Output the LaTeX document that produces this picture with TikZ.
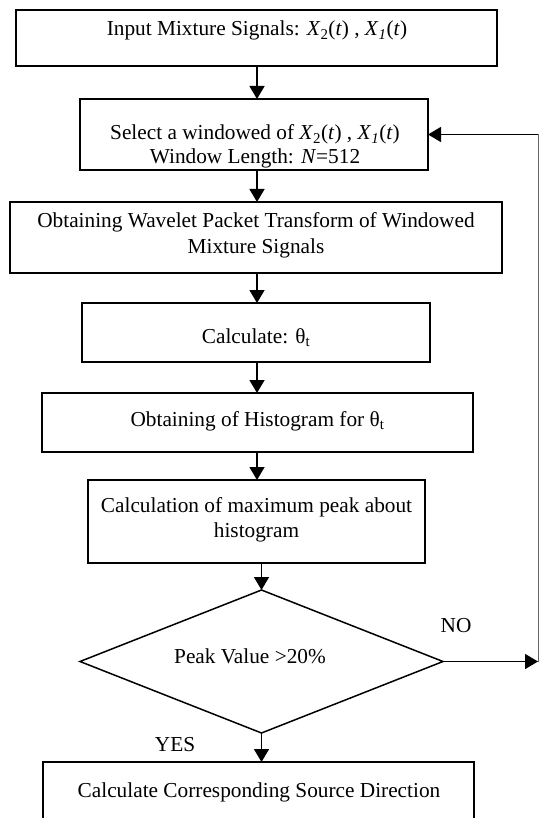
\documentclass[tikz,border=0pt]{standalone}
\usepackage{fontspec}
\setmainfont{Liberation Serif}
\usetikzlibrary{arrows.meta,shapes.geometric}
\tikzset{
  box/.style={draw, line width=1.5pt, inner sep=0pt, outer sep=0pt},
  dec/.style={draw, diamond, line width=1.5pt, inner sep=0pt, outer sep=0pt},
  lbl/.style={anchor=base, inner sep=0pt, font=\fontsize{21.3pt}{25pt}\selectfont},
  arr/.style={line width=1.5pt, -{Triangle[length=13pt,width=15pt]}},
  ln/.style={line width=1.5pt}
}
\begin{document}
\begin{tikzpicture}[x=1pt,y=-1pt]
\useasboundingbox (0,0) rectangle (538,818);
% boxes
\node[box, minimum width=481pt, minimum height=56pt] (b1) at (256.5,38) {};
\node[box, minimum width=348pt, minimum height=71pt] (b2) at (254,134.5) {};
\node[box, minimum width=492pt, minimum height=71pt] (b3) at (256,237.5) {};
\node[box, minimum width=348pt, minimum height=59pt] (b4) at (256,332.5) {};
\node[box, minimum width=431pt, minimum height=59pt] (b5) at (257.5,422.5) {};
\node[box, minimum width=337pt, minimum height=83pt] (b6) at (256.5,521.5) {};
\node[dec, minimum width=363pt, minimum height=143pt] (dia) at (261.5,661.5) {};
\node[box, minimum width=431pt, minimum height=68pt] (b7) at (258.5,796) {};
% texts
\node[lbl] (t1) at (257,36) {Input Mixture Signals: \textit{X}\textsubscript{2}(\textit{t}) , \textit{X}\textsubscript{\textit{1}}(\textit{t})};
\node[lbl] (t2a) at (255,140) {Select a windowed of \textit{X}\textsubscript{2}(\textit{t}) , \textit{X}\textsubscript{\textit{1}}(\textit{t})};
\node[lbl] (t2b) at (255,164) {Window Length: \textit{N}=512};
\node[lbl] (t3a) at (256,228) {Obtaining Wavelet Packet Transform of Windowed};
\node[lbl] (t3b) at (256,253) {Mixture Signals};
\node[lbl] (t4) at (256,343) {Calculate: θ\textsubscript{t}};
\node[lbl] (t5) at (257.5,426) {Obtaining of Histogram for θ\textsubscript{t}};
\node[lbl] (t6a) at (256.5,512) {Calculation of maximum peak about};
\node[lbl] (t6b) at (256.5,537) {histogram};
\node[lbl] (td) at (250,663) {Peak Value >20\%};
\node[lbl] (tno) at (456,632) {NO};
\node[lbl] (tyes) at (175,751) {YES};
\node[lbl] (t7) at (259,797) {Calculate Corresponding Source Direction};
% connectors
\coordinate (ax) at (257,0);
\coordinate (bx) at (261.5,0);
\draw[arr] (b1.south -| ax) -- (b2.north -| ax);
\draw[arr] (b2.south -| ax) -- (b3.north -| ax);
\draw[arr] (b3.south -| ax) -- (b4.north -| ax);
\draw[arr] (b4.south -| ax) -- (b5.north -| ax);
\draw[arr] (b5.south -| ax) -- (b6.north -| ax);
\draw[arr] (b6.south -| bx) -- (dia.north);
\draw[arr] (dia.south) -- (b7.north -| bx);
\coordinate (r1) at (538,661.5);
\coordinate (r2) at (538,134.5);
\draw[arr] (dia.east) -- (r1);
\draw[line width=1.6pt, black!60] ([xshift=0.8pt]r1) -- ([xshift=0.8pt]r2);
\draw[arr] (r2) -- (b2.east);
\end{tikzpicture}
\end{document}
